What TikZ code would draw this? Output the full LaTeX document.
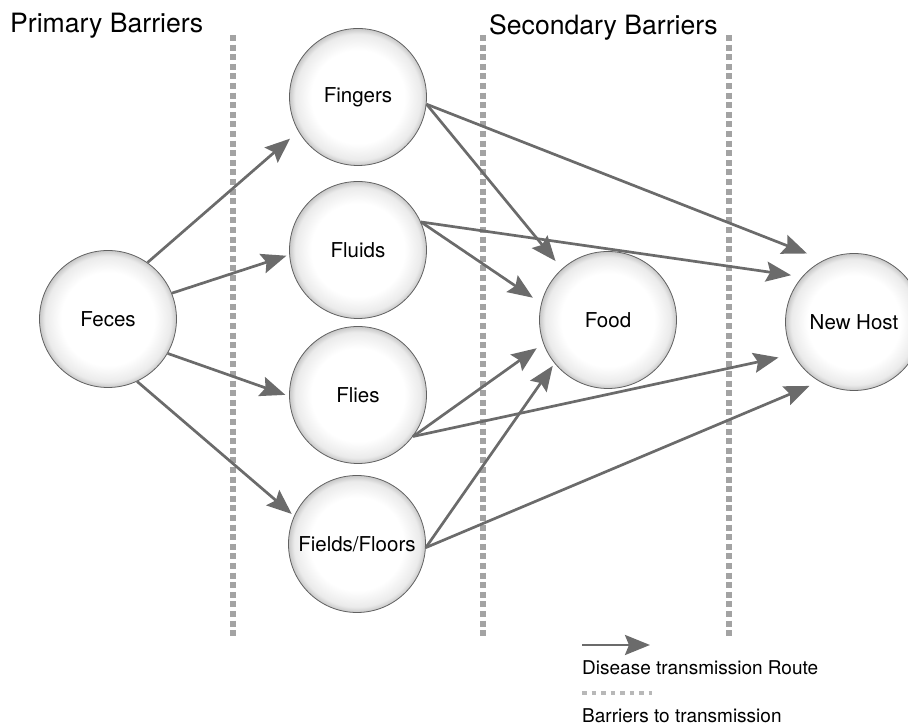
\documentclass[tikz,border=0pt]{standalone}
\usepackage{fontspec}
\setmainfont{TeX Gyre Heros}
\usetikzlibrary{arrows.meta}

\colorlet{circle edge}{black!62}
\colorlet{route color}{black!58}
\colorlet{barrier color}{black!36}
\pgfdeclareradialshading{pearl}{\pgfpoint{0bp}{0bp}}{color(0bp)=(white); color(17bp)=(white); color(23bp)=(black!8); color(25bp)=(black!22); color(50bp)=(black!22)}
\tikzset{
  vertex/.style={circle, shading=pearl, draw=circle edge, line width=0.8pt,
    minimum size=137pt, inner sep=0pt, font=\fontsize{20.5}{24}\selectfont},
  barrier/.style={draw=barrier color, line width=5.5pt, dash pattern=on 6pt off 3.6pt},
  title/.style={anchor=base west, inner sep=0pt, font=\fontsize{26.6}{30}\selectfont},
  legend/.style={anchor=base west, inner sep=0pt, font=\fontsize{19}{22}\selectfont}
  }
\tikzstyle{route} = [draw=route color, line width=2.7pt,
  -{Stealth[length=25pt, width=20pt, inset=4pt]}]

\begin{document}
\begin{tikzpicture}[x=1pt, y=1pt]
  \useasboundingbox (0,0) rectangle (908,727);

  % barrier lines
  \foreach \x in {233, 483, 729} {
    \draw[barrier] (\x,692) -- (\x,89);
  }

  \node[title] (primary) at (10,694) {Primary Barriers};
  \node[title] (secondary) at (489,692) {Secondary Barriers};

  % vehicles
  \foreach \pos/\name/\text in {{(108,408)/feces/Feces}, {(358,630)/fingers/Fingers},
      {(358,477)/fluids/Fluids}, {(358,332)/flies/Flies},
      {(357,183)/fields/{Fields/Floors}}, {(608,407)/food/Food},
      {(854,405)/host/New Host}} {
    \node[vertex] (\name) at \pos {\text};
  }

  % routes
  \foreach \src/\sa/\dst/\da/\gap in {feces/55/fingers/210.5/11, feces/22.5/fluids/184/3,
      feces/330.5/flies/181.6/4, feces/295.5/fields/156/3,
      fingers/354/food/132.4/10, fingers/354/host/116.6/18,
      fluids/24.3/food/166.7/10, fluids/24.3/host/139.5/11,
      flies/323.6/food/200.8/8, flies/323.6/host/208.4/15,
      fields/357.5/food/219.3/3, fields/357.5/host/240.9/11} {
    \path[route, shorten >=\gap pt] (\src.\sa) -- (\dst.\da);
  }

  % legend
  \coordinate (legA) at (582,82);
  \coordinate (legB) at (650,82);
  \coordinate (legC) at (582,34);
  \coordinate (legD) at (652,34);
  \path[route] (legA) -- (legB);
  \node[legend] (routetext) at (582,52) {Disease transmission Route};
  \draw[draw=black!28, line width=4pt, dash pattern=on 4.5pt off 5pt] (legC) -- (legD);
  \node[legend] (barriertext) at (582,4) {Barriers to transmission};
\end{tikzpicture}
\end{document}
